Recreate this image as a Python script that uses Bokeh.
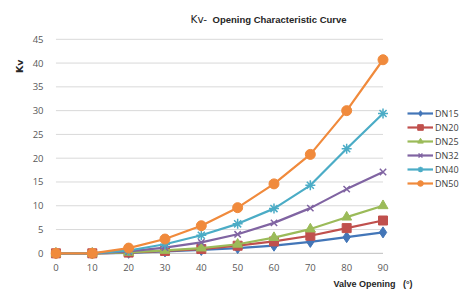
from bokeh.plotting import figure
from bokeh.models import Range1d, FixedTicker, Legend, LegendItem, Title, Label
from bokeh.embed import file_html
from bokeh.resources import INLINE

opening = [0, 10, 20, 30, 40, 50, 60, 70, 80, 90]
dn15 = [0, 0, 0.1, 0.4, 0.7, 1.1, 1.6, 2.4, 3.4, 4.4]
dn20 = [0, 0, 0.15, 0.5, 0.9, 1.6, 2.5, 3.7, 5.3, 6.9]
dn25 = [0, 0, 0.2, 0.6, 1.1, 1.9, 3.3, 5.1, 7.6, 10.0]
dn32 = [0, 0, 0.4, 1.2, 2.3, 4.0, 6.4, 9.5, 13.5, 17.1]
dn40 = [0, 0, 0.6, 1.9, 3.8, 6.2, 9.4, 14.3, 22.0, 29.4]
dn50 = [0, 0, 1.1, 3.0, 5.8, 9.6, 14.6, 20.8, 30.0, 40.7]
series_names = ["DN15", "DN20", "DN25", "DN32", "DN40", "DN50"]
y_ticks = [0, 5, 10, 15, 20, 25, 30, 35, 40, 45]

series = [dn15, dn20, dn25, dn32, dn40, dn50]
colors = ["#4376B8", "#C0504D", "#9BBB59", "#8064A2", "#4BACC6", "#F08A3C"]
markers = ["diamond", "square", "triangle", "x", "asterisk", "circle"]
sizes = [11, 9, 10, 9, 10, 10]

W, H = 463, 293
FL, FB = 50, 259          # frame left / bottom on the canvas
SX, SY = 3.634, 4.756     # pixels per data unit
X0, Y0 = -1.5, -1.3
FW, FH = W - FL, FB
X1 = X0 + FW / SX
Y1 = Y0 + FH / SY

p = figure(frame_width=FW, frame_height=FH, output_backend="svg", toolbar_location=None,
           x_range=Range1d(X0, X1), y_range=Range1d(Y0, Y1),
           min_border_left=FL, min_border_right=0,
           min_border_top=0, min_border_bottom=H - FB, title=None)
p.outline_line_color = None
p.background_fill_color = "white"
p.border_fill_color = "white"
p.xgrid.visible = False
p.ygrid.visible = False

def px2data(cx, cy):
    return X0 + (cx - FL) / SX, Y0 + (FB - cy) / SY

# gridlines spanning the category extent
gx = [[opening[0], opening[-1]] for _ in y_ticks]
gy = [[t, t] for t in y_ticks]
gcol = ["#BFBFBF" if t == 0 else "#D9D9D9" for t in y_ticks]
p.multi_line(gx, gy, line_color=gcol, line_width=1)

items = []
for name, vals, c, m, s in zip(series_names, series, colors, markers, sizes):
    l = p.line(opening, vals, line_color=c, line_width=2.2)
    if m in ("x", "asterisk"):
        sc = p.scatter(opening, vals, marker=m, size=s, line_color=c, line_width=1.5)
    else:
        sc = p.scatter(opening, vals, marker=m, size=s, fill_color=c, line_color=c)
    items.append(LegendItem(label=name, renderers=[l, sc]))

legend = Legend(items=items, location=(357, 69), orientation="vertical")
legend.glyph_width = 26
legend.glyph_height = 14
legend.label_height = 14
legend.spacing = 0
legend.padding = 0
legend.margin = 0
legend.label_standoff = 2
legend.label_text_font = "Open Sans"
legend.label_text_font_size = "9px"
legend.label_text_color = "#404040"
legend.border_line_color = None
legend.background_fill_alpha = 0
p.add_layout(legend, "center")

for ax in (p.xaxis, p.yaxis):
    ax.major_label_text_font = "Open Sans"
    ax.major_label_text_font_size = "9.5px"
    ax.major_label_text_color = "#595959"
    ax.axis_line_color = None
    ax.major_tick_line_color = None
    ax.minor_tick_line_color = None
    ax.major_tick_out = 0
    ax.major_tick_in = 0
p.xaxis.ticker = FixedTicker(ticks=opening)
p.yaxis.ticker = FixedTicker(ticks=y_ticks)
p.xaxis.major_label_standoff = 4
p.yaxis.major_label_standoff = 7

def add_label(text, cx, cy, size, bold=True, font="Liberation Sans"):
    x, y = px2data(cx, cy)
    p.add_layout(Label(x=x, y=y, text=text, text_font=font, text_font_size=size,
                       text_font_style="bold" if bold else "normal",
                       text_color="#262626", text_align="left",
                       text_baseline="middle"))

add_label("Kv-", 190, 18, "10.5px", bold=False, font="DejaVu Sans")
add_label("Opening Characteristic Curve", 212, 19, "9.5px")

ty = Title(text="Kv", align="right", offset=59,
           text_font="DejaVu Sans", text_font_size="9.5px", text_font_style="bold",
           text_color="#262626", standoff=9)
p.add_layout(ty, "left")

tx = Title(text="Valve Opening \u00a0\u00a0(°)", align="left", offset=283,
           text_font="Liberation Sans", text_font_size="9px", text_font_style="bold",
           text_color="#262626", standoff=6)
p.add_layout(tx, "below")

open("out.html", "w").write(file_html(p, INLINE))
